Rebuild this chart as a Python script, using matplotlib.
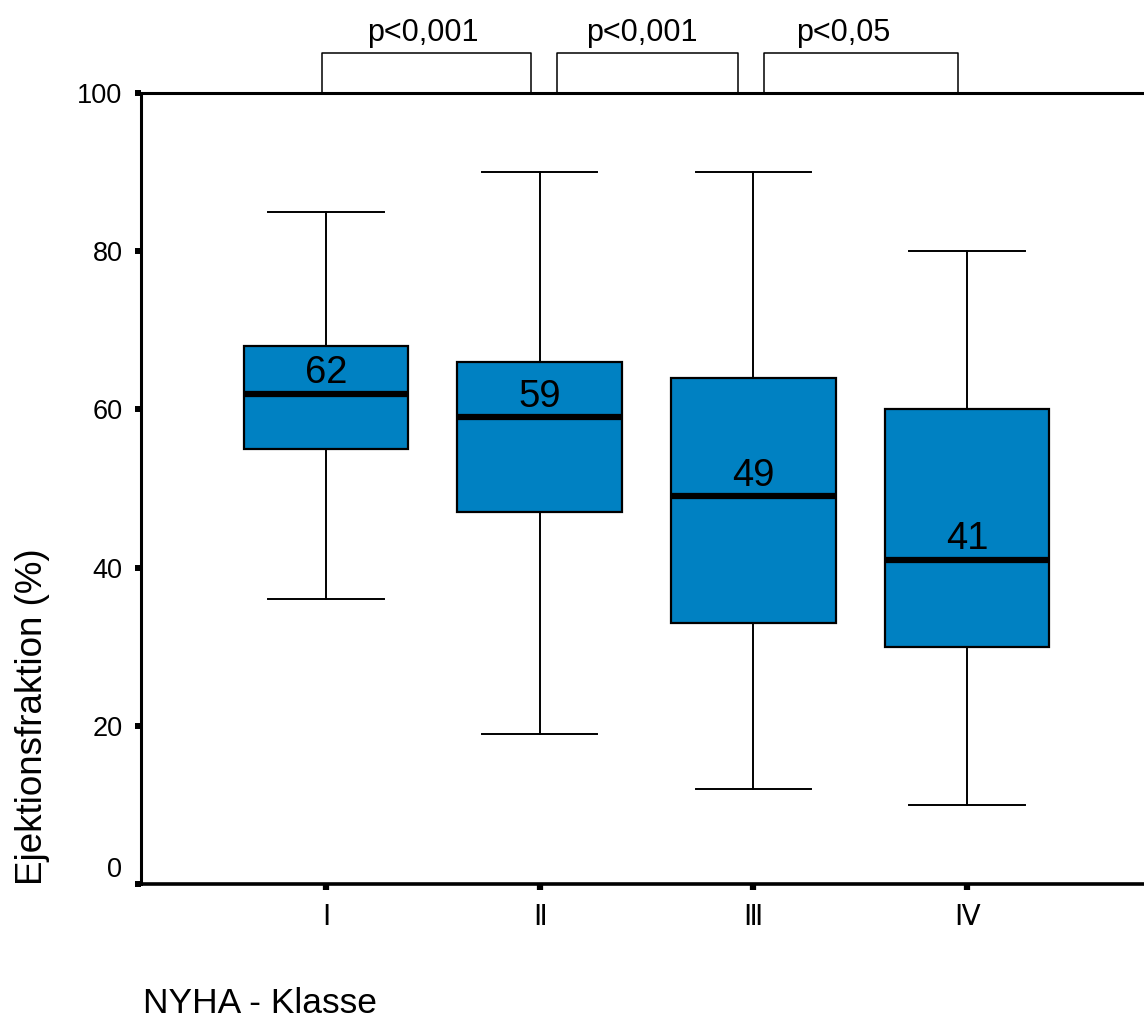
import matplotlib
matplotlib.use("Agg")
import matplotlib.pyplot as plt

plt.rcParams['font.family'] = ['Liberation Sans', 'DejaVu Sans']

# ---- data ----
categories = ["Ⅰ", "Ⅱ", "Ⅲ", "Ⅳ"]
whislo = [36, 19, 12, 10]
q1 = [55, 47, 33, 30]
med = [62, 59, 49, 41]
q3 = [68, 66, 64, 60]
whishi = [85, 90, 90, 80]
p_labels = ["p<0,001", "p<0,001", "p<0,05"]

# ---- layout ----
bracket_spans = [(0.98, 1.96), (2.08, 2.93), (3.05, 3.96)]
p_label_x = [1.455, 2.48, 3.42]
box_color = '#0081C2'

fig = plt.figure(figsize=(11.44, 10.19), dpi=100)
ax = fig.add_axes([141/1144, 1-884/1019, (1152-141)/1144, (884-93)/1019])

positions = list(range(1, len(categories) + 1))
stats = []
for i in range(len(categories)):
    stats.append(dict(med=med[i], q1=q1[i], q3=q3[i],
                      whislo=whislo[i], whishi=whishi[i], fliers=[]))

ax.bxp(stats, positions=positions, widths=0.77, patch_artist=True,
       showfliers=False,
       boxprops=dict(facecolor=box_color, edgecolor='black', linewidth=1.6),
       medianprops=dict(color='black', linewidth=4.5, solid_capstyle='butt'),
       whiskerprops=dict(color='black', linewidth=1.4),
       capprops=dict(color='black', linewidth=1.4),
       capwidths=0.54)

for x, m in zip(positions, med):
    ax.text(x, m + 1.3, str(m), ha='center', va='baseline', fontsize=27.5)

ax.set_xlim(0.134, 4.866)
ax.set_ylim(0, 100)
ax.set_yticks([0, 20, 40, 60, 80, 100])
ax.set_yticklabels(['', '20', '40', '60', '80', '100'], fontsize=19.5)
ax.annotate('0', xy=(0, 0), xycoords=('axes fraction', 'data'),
            xytext=(-13.5, 10), textcoords='offset points',
            ha='right', va='center', fontsize=19.5)
ax.set_xticks(positions)
ax.set_xticklabels(categories, fontsize=20,
                   family=['DejaVu Sans', 'Liberation Sans'])

ax.tick_params(axis='y', direction='out', length=4.3, width=4.3, pad=9)
ax.tick_params(axis='x', direction='out', length=4.5, width=4.5, pad=9)

for s in ['left', 'top', 'bottom']:
    ax.spines[s].set_linewidth(2.2)
ax.spines['bottom'].set_linewidth(2.6)
ax.spines['right'].set_visible(False)

for (x0, x1), lab, tx in zip(bracket_spans, p_labels, p_label_x):
    ax.plot([x0, x0, x1, x1], [100, 105, 105, 100], color='black',
            linewidth=1.1, clip_on=False)
    ax.text(tx, 106.6, lab, ha='center', va='baseline', fontsize=22,
            clip_on=False)

fig.text(33/1144, 1-717/1019, 'Ejektionsfraktion (%)', rotation=90,
         ha='center', va='center', fontsize=26.5)
fig.text(143/1144, 1-1013/1019, 'NYHA - Klasse', ha='left', va='baseline',
         fontsize=25.5)

fig.savefig('out.png', dpi=100)
